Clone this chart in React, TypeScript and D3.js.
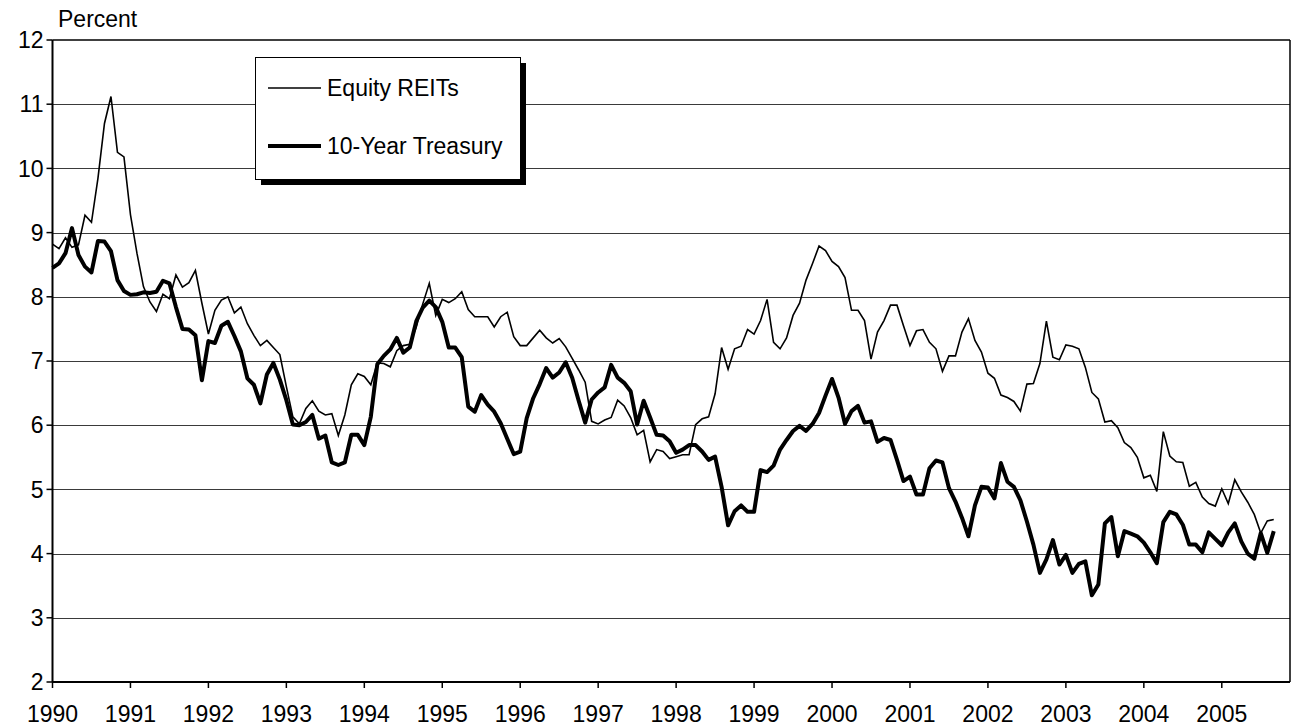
import React from "react";
import * as d3 from "d3";

const years = ["1990","1991","1992","1993","1994","1995","1996","1997","1998","1999","2000","2001","2002","2003","2004","2005"];
const yTicks = [2,3,4,5,6,7,8,9,10,11,12];

const equityREITs = [
  8.82,8.75,8.92,8.77,8.81,9.27,9.16,9.85,10.7,11.12,10.25,10.18,
  9.28,8.68,8.16,7.92,7.77,8.04,7.97,8.34,8.15,8.22,8.41,7.9,
  7.42,7.79,7.95,8.0,7.75,7.84,7.58,7.4,7.24,7.32,7.21,7.1,
  6.6,6.13,6.02,6.26,6.38,6.22,6.16,6.18,5.84,6.16,6.63,6.8,
  6.76,6.63,6.97,6.96,6.91,7.16,7.24,7.26,7.53,7.89,8.21,7.71,
  7.96,7.91,7.97,8.08,7.8,7.69,7.69,7.69,7.53,7.69,7.76,7.38,
  7.24,7.24,7.36,7.48,7.36,7.28,7.35,7.22,7.04,6.86,6.67,6.06,
  6.02,6.08,6.12,6.39,6.3,6.12,5.85,5.92,5.43,5.62,5.59,5.48,
  5.51,5.54,5.54,6.01,6.1,6.13,6.49,7.21,6.87,7.19,7.23,7.49,
  7.42,7.63,7.96,7.29,7.19,7.36,7.71,7.9,8.26,8.52,8.79,8.72,
  8.55,8.47,8.3,7.79,7.79,7.63,7.03,7.45,7.63,7.87,7.87,7.55,
  7.24,7.47,7.49,7.29,7.19,6.84,7.08,7.08,7.45,7.66,7.32,7.14,
  6.81,6.73,6.47,6.43,6.37,6.22,6.64,6.65,6.96,7.62,7.06,7.02,
  7.25,7.23,7.19,6.9,6.51,6.41,6.05,6.07,5.96,5.73,5.65,5.5,
  5.18,5.22,4.97,5.9,5.52,5.43,5.42,5.05,5.11,4.88,4.78,4.74,
  5.01,4.78,5.15,4.96,4.8,4.61,4.32,4.51,4.53
];

const treasury10y = [
  8.45,8.52,8.68,9.07,8.65,8.47,8.38,8.87,8.86,8.71,8.26,8.09,
  8.03,8.04,8.07,8.06,8.08,8.25,8.21,7.84,7.5,7.49,7.4,6.7,
  7.31,7.28,7.55,7.61,7.39,7.15,6.73,6.63,6.34,6.79,6.97,6.71,
  6.39,6.01,6.0,6.05,6.16,5.79,5.84,5.42,5.38,5.42,5.85,5.85,
  5.69,6.13,6.95,7.08,7.18,7.36,7.13,7.21,7.62,7.83,7.94,7.84,
  7.61,7.21,7.21,7.06,6.29,6.21,6.47,6.32,6.21,6.03,5.79,5.55,
  5.59,6.11,6.42,6.64,6.89,6.74,6.82,6.98,6.74,6.38,6.04,6.4,
  6.51,6.59,6.94,6.74,6.66,6.53,6.01,6.38,6.12,5.85,5.84,5.75,
  5.57,5.62,5.69,5.69,5.59,5.46,5.51,5.04,4.44,4.66,4.75,4.65,
  4.65,5.3,5.27,5.37,5.62,5.77,5.91,5.99,5.91,6.02,6.19,6.46,
  6.72,6.43,6.02,6.22,6.3,6.04,6.06,5.74,5.8,5.77,5.46,5.13,
  5.2,4.92,4.92,5.33,5.45,5.42,5.02,4.81,4.56,4.27,4.75,5.04,
  5.03,4.86,5.41,5.12,5.04,4.83,4.5,4.14,3.7,3.91,4.21,3.83,
  3.98,3.7,3.84,3.88,3.35,3.52,4.47,4.57,3.96,4.35,4.31,4.27,
  4.17,4.02,3.85,4.49,4.65,4.61,4.45,4.14,4.14,4.02,4.33,4.23,
  4.13,4.33,4.47,4.19,4.0,3.92,4.32,4.01,4.35
];

const seriesNames = ["Equity REITs", "10-Year Treasury"];

const W = 1294, H = 728;
const L = 52.5, R = 1290, T = 40, B = 682;
const FONT = "'Liberation Sans', Arial, sans-serif";
const FS = 23;

export default function App() {
  const x = d3.scaleLinear().domain([0, 190.5]).range([L, R]);
  const y = d3.scaleLinear().domain([2, 12]).range([B, T]);
  const line = d3.line<number>().x((_, i) => x(i)).y(d => y(d));

  return (
    <div style={{ position: "absolute", left: 0, top: 0 }}>
      <svg width={W} height={H} style={{ display: "block", background: "#fff" }} fontFamily={FONT}>
        {yTicks.filter(t => t > 2 && t < 12).map(t => (
          <line key={t} x1={L} x2={R} y1={Math.round(y(t)) + 0.5} y2={Math.round(y(t)) + 0.5} stroke="#3a3a3a" strokeWidth={1} />
        ))}
        <line x1={L} x2={R} y1={T} y2={T} stroke="#000" strokeWidth={1.5} />
        <line x1={R} x2={R} y1={T} y2={B} stroke="#000" strokeWidth={1.5} />
        <line x1={L} x2={R} y1={B} y2={B} stroke="#000" strokeWidth={2} />
        <line x1={L} x2={L} y1={T} y2={B} stroke="#000" strokeWidth={2} />
        {yTicks.map(t => (
          <g key={t}>
            <line x1={L - 6} x2={L} y1={y(t)} y2={y(t)} stroke="#000" strokeWidth={1.5} />
            <text x={L - 9} y={y(t)} dy="0.36em" textAnchor="end" fontSize={FS} fill="#000">{t}</text>
          </g>
        ))}
        {years.map((yr, k) => (
          <g key={yr}>
            <line x1={x(k * 12)} x2={x(k * 12)} y1={B} y2={B + 6} stroke="#000" strokeWidth={1.5} />
            <text x={x(k * 12)} y={722} textAnchor="middle" fontSize={FS} fill="#000">{yr}</text>
          </g>
        ))}
        <text x={58} y={27} fontSize={FS} fill="#000">Percent</text>
        <path d={line(equityREITs) || ""} fill="none" stroke="#000" strokeWidth={1.6} strokeLinejoin="miter" />
        <path d={line(treasury10y) || ""} fill="none" stroke="#000" strokeWidth={4} strokeLinejoin="round" />
        <rect x={261} y={63} width={265} height={122} fill="#000" />
        <rect x={255.5} y={57.5} width={265} height={122} fill="#fff" stroke="#000" strokeWidth={1} />
        <line x1={268} x2={321} y1={88} y2={88} stroke="#000" strokeWidth={1.6} />
        <text x={327} y={88} dy="0.36em" fontSize={FS} fill="#000">{seriesNames[0]}</text>
        <line x1={268} x2={321} y1={146} y2={146} stroke="#000" strokeWidth={4} />
        <text x={327} y={146} dy="0.36em" fontSize={FS} fill="#000">{seriesNames[1]}</text>
      </svg>
    </div>
  );
}
